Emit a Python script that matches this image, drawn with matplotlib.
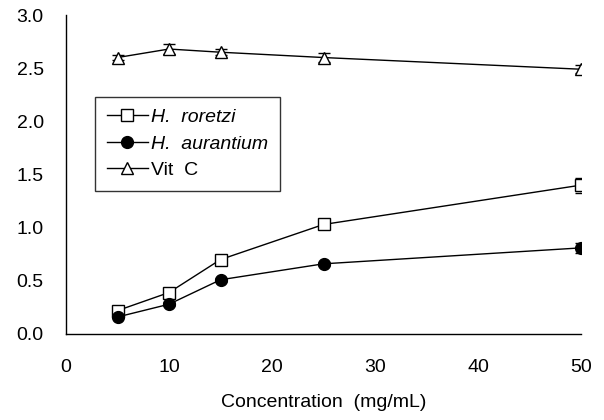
import matplotlib
matplotlib.use("Agg")
import matplotlib.pyplot as plt

conc = [5, 10, 15, 25, 50]
roretzi = [0.22, 0.39, 0.70, 1.03, 1.40]
roretzi_err = [0.02, 0.02, 0.02, 0.03, 0.07]
aurantium = [0.16, 0.28, 0.51, 0.66, 0.81]
aurantium_err = [0.01, 0.02, 0.02, 0.02, 0.05]
vitc = [2.60, 2.68, 2.65, 2.60, 2.49]
vitc_err = [0.02, 0.05, 0.03, 0.04, 0.04]
labels = ['H.  roretzi', 'H.  aurantium', 'Vit  C']

plt.rcParams['font.family'] = ['Liberation Sans', 'DejaVu Sans']
FS = 14

fig = plt.figure(figsize=(6.04, 4.2), dpi=100)
ax = fig.add_axes([66/604, 1-334/420, (581-66)/604, (334-15)/420])

eb = dict(fmt='none', ecolor='black', elinewidth=1, capsize=4, capthick=1)
ax.errorbar(conc, roretzi, yerr=roretzi_err, **eb)
ax.errorbar(conc, aurantium, yerr=aurantium_err, **eb)
ax.errorbar(conc, vitc, yerr=vitc_err, **eb)

ax.plot(conc, roretzi, color='black', linewidth=1.0, marker='s', markersize=8,
        markerfacecolor='white', markeredgecolor='black', markeredgewidth=1.0, label=labels[0])
ax.plot(conc, aurantium, color='black', linewidth=1.0, marker='o', markersize=8.5,
        markerfacecolor='black', markeredgecolor='black', label=labels[1])
ax.plot(conc, vitc, color='black', linewidth=1.0, marker='^', markersize=8,
        markerfacecolor='white', markeredgecolor='black', markeredgewidth=1.0, label=labels[2])

ax.set_xlim(0, 50)
ax.set_ylim(0, 3.0)
ax.set_xticks([0, 10, 20, 30, 40, 50])
ax.set_yticks([0.0, 0.5, 1.0, 1.5, 2.0, 2.5, 3.0])
ax.set_yticklabels(['0.0', '0.5', '1.0', '1.5', '2.0', '2.5', '3.0'])
ax.tick_params(axis='y', length=0, labelsize=FS, pad=16)
ax.tick_params(axis='x', length=0, labelsize=FS, pad=18)
for s in ['top', 'right']:
    ax.spines[s].set_visible(False)
for s in ['left', 'bottom']:
    ax.spines[s].set_linewidth(1.0)
ax.set_xlabel('Concentration  (mg/mL)', fontsize=FS, labelpad=13)

leg = ax.legend(loc='upper left', bbox_to_anchor=(29/515, (334-97)/319), fontsize=FS,
                frameon=True, fancybox=False, edgecolor='black', borderpad=0.6,
                handlelength=2.1, handletextpad=0.2, labelspacing=0.45, borderaxespad=0)
leg.get_frame().set_linewidth(1.0)
for t in leg.get_texts()[:2]:
    t.set_fontstyle('italic')

fig.savefig('out.png', dpi=100)
